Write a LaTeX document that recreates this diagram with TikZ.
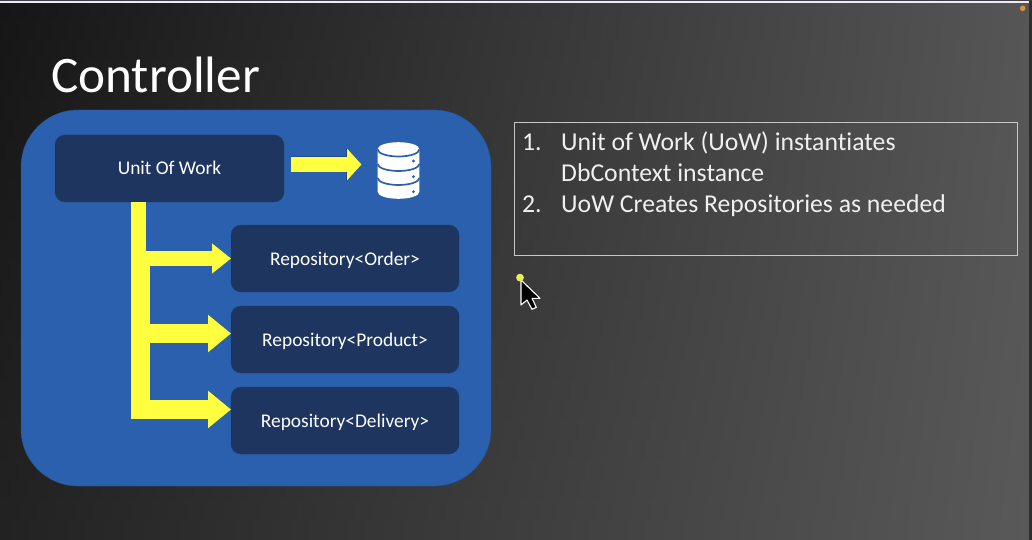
\documentclass[tikz,border=0pt]{standalone}
\usepackage{fontspec}
\setmainfont[Ligatures=NoCommon]{Carlito}
\usetikzlibrary{positioning,calc,arrows.meta}
\definecolor{panelblue}{HTML}{2B60AE}
\definecolor{boxnavy}{HTML}{1E3560}
\definecolor{flowyellow}{HTML}{FFFF40}
\definecolor{pointerdot}{HTML}{E6EE5C}
\definecolor{cornerdot}{HTML}{D9913A}
\tikzset{
  repobox/.style={draw=boxnavy!85!panelblue, fill=boxnavy, rounded corners=10pt, text=white, font=\fontsize{19.4}{23}\selectfont, text height=15pt, text depth=2pt, minimum width=228pt, minimum height=67pt, inner sep=0pt, outer sep=0pt},
  flow/.style={draw=flowyellow, line width=15pt, -{Triangle[length=19pt,width=29pt,fill=flowyellow]}},
  flowwide/.style={draw=flowyellow, line width=19pt, -{Triangle[length=23pt,width=36pt,fill=flowyellow]}},
  steptext/.style={text=white!94!black, anchor=base west, font=\fontsize{25.7}{30}\selectfont, inner sep=0pt}
}
\begin{document}
\begin{tikzpicture}[x=1pt, y=-1pt, node distance=14pt]
    \useasboundingbox (0,0) rectangle (1032,540);
    % backdrop
    \foreach \k in {0,...,26} {
        \pgfmathsetmacro{\darkend}{91.4-4.7*\k/26}
        \pgfmathsetmacro{\lightend}{66.3-1.3*\k/26}
        \shade[left color=black!\darkend, right color=black!\lightend] (0,20*\k) rectangle (1032,20*\k+21);
    }
    \fill[black!82] (1029,0) rectangle (1032,540);
    \fill[black!75] (0,0) rectangle (1032,1.5);
    \fill[white!92!blue] (0,1.5) rectangle (1029,3.2);
    \fill[cornerdot] (1022.7,8.3) circle (2.8);

    \node [text=white, anchor=base west, inner sep=0pt, font=\fontsize{51.2}{60}\selectfont] (title) at (51,92.5) {Controller};

    \node [draw=panelblue!90!black, fill=panelblue, rounded corners=57pt, minimum width=470pt, minimum height=376pt, inner sep=0pt, outer sep=0pt] (panel) at (256,298) {};
    \node [repobox, minimum width=229pt] (uow) at (169.5,168.5) {Unit Of Work};
    \node [repobox] (order) at (345,258.5) {Repository<Order>};
    \node [repobox, below=14pt of order] (product) {Repository<Product>};
    \node [repobox, below=14pt of product] (delivery) {Repository<Delivery>};

    % database icon
    \fill[white] (377.7,149) arc[start angle=180, end angle=360, x radius=20.8, y radius=6.8]
        -- (419.3,192) arc[start angle=0, end angle=180, x radius=20.8, y radius=6.8] -- cycle;
    \foreach \y in {149.5,164,178} {
        \draw[panelblue, line width=1.7pt] (377.7,\y) arc[start angle=180, end angle=360, x radius=20.8, y radius=-7];
    }
    \foreach \y in {161,176.7,191.7} {
        \fill[panelblue] (413.4,\y) circle (1.6);
    }

    % arrows
    \coordinate (trunktop) at (138.3,202);
    \coordinate (trunkmid) at (138.3,266);
    \coordinate (trunkend) at (140.2,419);
    \draw[flowyellow, line width=15.3pt] (trunktop) -- (trunkmid);
    \draw[flowyellow, line width=19pt] (trunkmid -| trunkend) -- (trunkend);
    \coordinate (dbfrom) at ($(uow.east)+(7,-4)$);
    \coordinate (dbto) at (361.5,164.5);
    \draw[flow, draw=boxnavy!50!panelblue, line width=16pt, -{Triangle[length=15.5pt,width=33pt,fill=boxnavy!50!panelblue]}] (dbfrom) -- (dbto);
    \draw[flow, -{Triangle[length=14.5pt,width=31pt,fill=flowyellow]}] (dbfrom) -- (dbto);
    \draw[flow] (trunktop |- order.west) -- (order.west);
    \draw[flowwide] ($(trunkend |- product.west)+(0,-6)$) -- ($(product.west)+(0,-6)$);
    \draw[flowwide] ($(trunkend |- delivery.west)+(0,-11)$) -- ($(delivery.west)+(0,-11)$);

    % notes
    \node [draw=white!78!black, line width=0.9pt, minimum width=503pt, minimum height=133pt, inner sep=0pt, outer sep=0pt] (notes) at (765.7,188.5) {};
    \node [steptext] (num1) at (522,150.7) {1.};
    \node [steptext] (line1) at (561,150.7) {Unit of Work (UoW) instantiates};
    \node [steptext] (line2) at (561,181.5) {DbContext instance};
    \node [steptext] (num2) at (522,212.5) {2.};
    \node [steptext] (line3) at (561,212.5) {UoW Creates Repositories as needed};

    % pointer
    \draw[white, fill=black, line width=1.1pt, line join=round] (521,280) -- (521,305) -- (527,300) -- (532,309.3) -- (536.3,307.3) -- (532,298.3) -- (540,298.3) -- cycle;
    \fill[pointerdot] (520,277.6) circle (3.9);
\end{tikzpicture}
\end{document}
